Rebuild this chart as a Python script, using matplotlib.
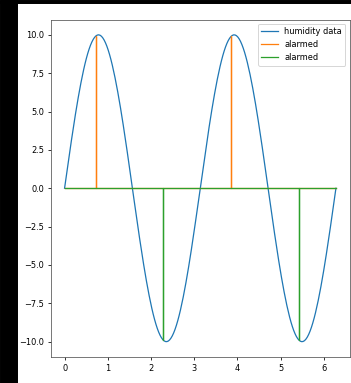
import matplotlib
matplotlib.use("Agg")
import matplotlib.pyplot as plt
from matplotlib.patches import Rectangle
import numpy as np

# humidity signal: 10 * sin(2t) over one full turn
amplitude = 10.0
angular_freq = 2.0
t_end = 2 * np.pi
n_samples = 200

# alarm positions / values
high_alarm_x = [0.72, 3.86]
high_alarm_y = [9.95, 9.95]
low_alarm_x = [2.29, 5.43]
low_alarm_y = [-9.9, -9.9]


def spike_path(xs, ys, start, end):
    # baseline at 0 with a vertical spike at each alarm
    px, py = [start], [0.0]
    for x, y in zip(xs, ys):
        px += [x, x, x]
        py += [0.0, y, 0.0]
    px.append(end)
    py.append(0.0)
    return px, py


plt.rcParams["font.size"] = 8.5
plt.rcParams["lines.linewidth"] = 1.3
plt.rcParams["axes.linewidth"] = 0.8
plt.rcParams["axes.edgecolor"] = "#555555"

t = np.linspace(0, t_end, n_samples)
humidity = amplitude * np.sin(angular_freq * t)

W, H, DPI = 351, 383, 70
fig = plt.figure(figsize=(W / DPI, H / DPI), dpi=DPI)
ax = fig.add_axes([51 / W, 1 - 357 / H, (349.5 - 51) / W, (357 - 19.5) / H])

ax.plot(t, humidity, label="humidity data")
hx, hy = spike_path(high_alarm_x, high_alarm_y, 0, t_end)
ax.plot(hx, hy, label="alarmed")
lx, ly = spike_path(low_alarm_x, low_alarm_y, 0, t_end)
ax.plot(lx, ly, label="alarmed")

ax.legend(loc="upper right")

# dark screenshot border at the left and top
fig.patches.append(Rectangle((0, 0), 17 / W, 1, transform=fig.transFigure,
                             color="black", zorder=-1))
fig.patches.append(Rectangle((0, 1 - 3 / H), 1, 3 / H, transform=fig.transFigure,
                             color="black", zorder=-1))

fig.savefig("out.png", dpi=DPI)
